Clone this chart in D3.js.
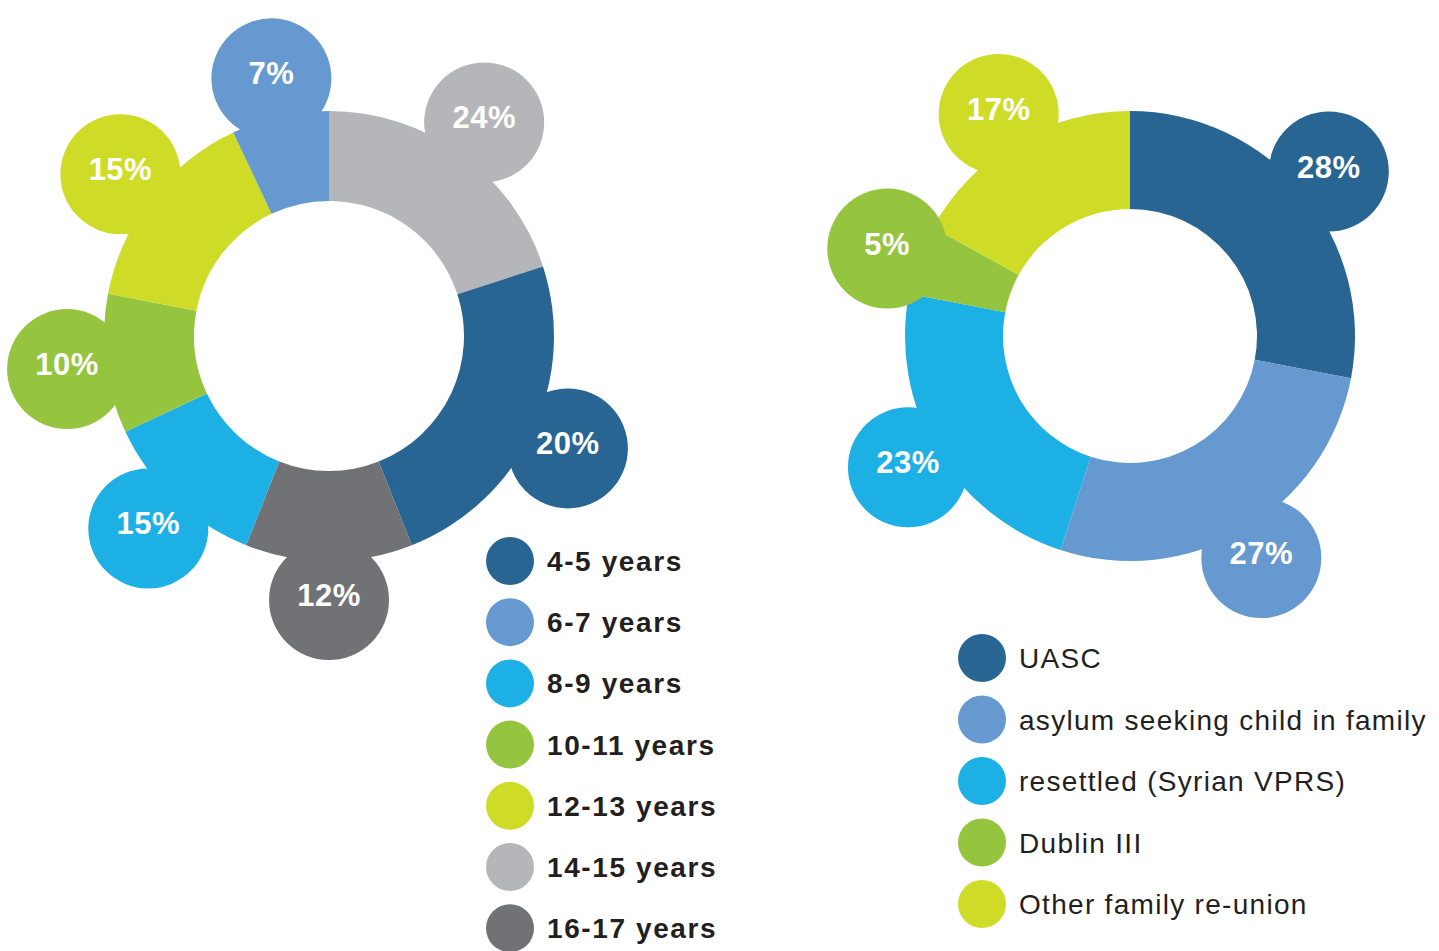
<!DOCTYPE html>
<html>
<head>
<meta charset="utf-8">
<script src="https://cdn.jsdelivr.net/npm/d3@7"></script>
<style>
  body { margin: 0; background: #fff; }
  svg { display: block; }
</style>
</head>
<body>
<svg id="chart" width="1439" height="951"></svg>
<script>
// left donut: age groups, clockwise from 12 o'clock
const ageGroups = ['14-15 years', '4-5 years', '16-17 years', '8-9 years', '10-11 years', '12-13 years', '6-7 years'];
const ageShares = [20, 24, 12, 12, 10, 15, 7];            // slice sizes as drawn
const ageLabels = ['24%', '20%', '12%', '15%', '10%', '15%', '7%']; // printed in the bubbles
const ageLegend = ['4-5 years', '6-7 years', '8-9 years', '10-11 years', '12-13 years', '14-15 years', '16-17 years'];

// right donut: route of arrival, clockwise from 12 o'clock
const routes = ['UASC', 'asylum seeking child in family', 'resettled (Syrian VPRS)', 'Dublin III', 'Other family re-union'];
const routeShares = [28, 27, 23, 5, 17];
const routeLabels = ['28%', '27%', '23%', '5%', '17%'];

const colours = {
  '4-5 years': '#286593',
  '6-7 years': '#6599d0',
  '8-9 years': '#1cb0e4',
  '10-11 years': '#95c43f',
  '12-13 years': '#cfdc27',
  '14-15 years': '#b5b6b9',
  '16-17 years': '#717276',
  'UASC': '#286593',
  'asylum seeking child in family': '#6599d0',
  'resettled (Syrian VPRS)': '#1cb0e4',
  'Dublin III': '#95c43f',
  'Other family re-union': '#cfdc27'
};

const svg = d3.select('#chart');
const font = '"Liberation Sans", Arial, Helvetica, sans-serif';

const drawDonut = (cx, cy, inner, dist, names, shares, labels) => {
  const outer = 225;
  const bubbleR = 60;
  const g = svg.append('g').attr('transform', `translate(${cx}, ${cy})`);
  const pie = d3.pie().sort(null).value(d => d.v);
  const arcs = pie(names.map((n, i) => ({name: n, v: shares[i], label: labels[i]})));
  const arc = d3.arc().innerRadius(inner).outerRadius(outer);

  g.selectAll('path.slice')
    .data(arcs)
    .join('path')
    .attr('class', 'slice')
    .attr('fill', d => colours[d.data.name])
    .attr('d', arc);

  const bubbles = g.selectAll('g.bubble')
    .data(arcs)
    .join('g')
    .attr('class', 'bubble')
    .attr('transform', d => {
      const p = d3.pointRadial((d.startAngle + d.endAngle) / 2, dist);
      return `translate(${p[0]}, ${p[1]})`;
    });
  bubbles.append('circle')
    .attr('r', bubbleR)
    .attr('fill', d => colours[d.data.name]);
  bubbles.append('text')
    .attr('y', 6)
    .attr('text-anchor', 'middle')
    .attr('fill', '#fff')
    .style('font-family', font)
    .style('font-weight', 'bold')
    .style('font-size', '31px')
    .style('letter-spacing', '0.5px')
    .text(d => d.data.label);
};

const drawLegend = (x, y0, step, items, weight, spacing) => {
  const g = svg.append('g');
  const rows = g.selectAll('g')
    .data(items)
    .join('g')
    .attr('transform', (d, i) => `translate(${x}, ${y0 + i * step})`);
  rows.append('circle')
    .attr('r', 24)
    .attr('fill', d => colours[d]);
  rows.append('text')
    .attr('x', 37)
    .attr('y', 10)
    .attr('fill', '#231f20')
    .style('font-family', font)
    .style('font-weight', weight)
    .style('font-size', '28px')
    .style('letter-spacing', spacing)
    .text(d => d);
};

drawDonut(329, 336, 135, 264, ageGroups, ageShares, ageLabels);
drawDonut(1130, 336, 127, 258, routes, routeShares, routeLabels);

drawLegend(510, 561, 61.2, ageLegend, 'bold', '1.6px');
drawLegend(982, 658, 61.5, routes, 'normal', '1.3px');
</script>
</body>
</html>
